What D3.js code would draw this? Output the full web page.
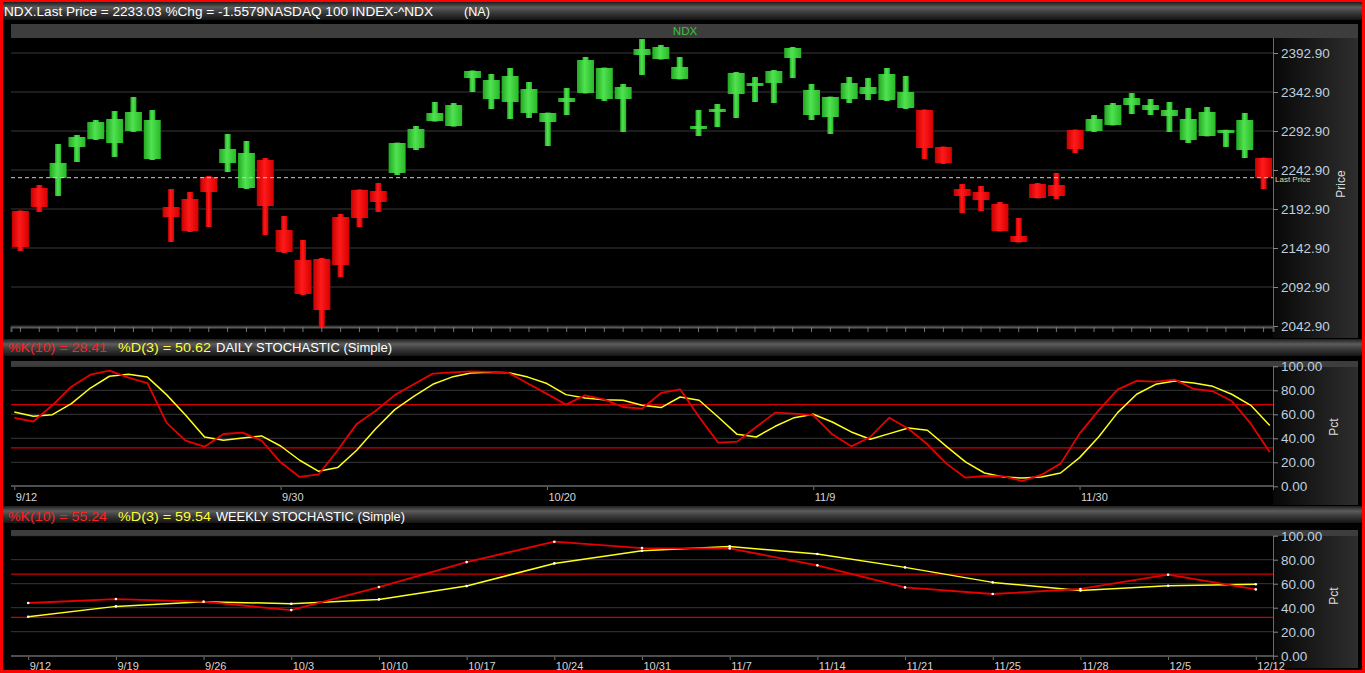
<!DOCTYPE html>
<html>
<head>
<meta charset="utf-8">
<title>NDX daily / stochastic</title>
<script src="https://cdn.jsdelivr.net/npm/d3@7/dist/d3.min.js"></script>
<style>
  html, body { margin: 0; padding: 0; background: #000; overflow: hidden; }
  svg { display: block; }
  text { font-family: 'Liberation Sans', Arial, sans-serif; }
</style>
</head>
<body>
<svg id="chart" width="1365" height="673"></svg>
<script>
/**
 * Data
 */
const dates = [
  '9/12', '9/13', '9/14', '9/15', '9/16', '9/19', '9/20', '9/21', '9/22', '9/23',
  '9/26', '9/27', '9/28', '9/29', '9/30', '10/3', '10/4', '10/5', '10/6', '10/7',
  '10/10', '10/11', '10/12', '10/13', '10/14', '10/17', '10/18', '10/19', '10/20', '10/21',
  '10/24', '10/25', '10/26', '10/27', '10/28', '10/31', '11/1', '11/2', '11/3', '11/4',
  '11/7', '11/8', '11/9', '11/10', '11/11', '11/14', '11/15', '11/16', '11/17', '11/18',
  '11/21', '11/22', '11/23', '11/25', '11/28', '11/29', '11/30', '12/1', '12/2', '12/5',
  '12/6', '12/7', '12/8', '12/9', '12/12', '12/13', '12/14'
]

const open = [
  2190.3, 2219.8, 2232.6, 2272.4, 2282.6, 2277.5, 2292.9, 2257.0, 2195.5, 2205.7,
  2233.9, 2251.9, 2219.8, 2255.7, 2166.0, 2127.5, 2128.8, 2182.6, 2217.3, 2216.0,
  2239.1, 2271.1, 2305.7, 2299.3, 2360.8, 2333.9, 2330.1, 2316.0, 2304.4, 2330.1,
  2341.6, 2333.9, 2333.9, 2390.3, 2385.2, 2359.6, 2298.0, 2318.5, 2340.3, 2353.2,
  2354.4, 2386.5, 2313.4, 2310.8, 2333.9, 2340.3, 2332.6, 2322.4, 2319.8, 2272.4,
  2218.5, 2214.7, 2199.3, 2158.3, 2225.0, 2223.7, 2294.2, 2292.9, 2300.6, 2326.2,
  2319.8, 2312.1, 2281.4, 2286.5, 2292.9, 2268.5, 2258.3
]
const high = [
  2191.0, 2223.7, 2276.2, 2287.8, 2307.0, 2318.5, 2336.5, 2319.8, 2218.5, 2214.7,
  2235.2, 2289.1, 2280.1, 2258.3, 2183.9, 2153.2, 2130.1, 2186.5, 2218.0, 2226.2,
  2278.0, 2299.3, 2330.1, 2328.8, 2370.5, 2366.0, 2373.7, 2355.7, 2316.5, 2348.0,
  2387.8, 2374.2, 2353.2, 2410.8, 2403.2, 2387.8, 2319.8, 2327.5, 2368.5, 2362.1,
  2371.1, 2400.6, 2353.2, 2337.0, 2362.1, 2360.8, 2373.7, 2363.4, 2320.5, 2273.0,
  2225.0, 2222.4, 2201.9, 2181.4, 2226.2, 2239.1, 2294.8, 2313.4, 2328.8, 2341.6,
  2333.9, 2330.1, 2322.4, 2323.7, 2294.5, 2316.0, 2258.8
]
const low = [
  2139.1, 2189.1, 2209.6, 2253.2, 2281.4, 2259.6, 2291.6, 2255.7, 2150.6, 2163.4,
  2169.8, 2240.3, 2218.5, 2159.6, 2136.5, 2082.6, 2041.6, 2105.7, 2169.8, 2189.1,
  2236.5, 2268.5, 2305.0, 2298.5, 2342.9, 2321.1, 2308.3, 2309.6, 2273.7, 2313.4,
  2341.0, 2331.4, 2291.6, 2364.7, 2384.5, 2359.0, 2286.5, 2298.0, 2309.6, 2330.1,
  2328.8, 2360.8, 2307.0, 2289.1, 2328.8, 2332.6, 2331.4, 2321.1, 2257.0, 2250.6,
  2187.8, 2190.3, 2164.0, 2150.0, 2206.5, 2205.7, 2264.7, 2291.6, 2300.0, 2314.7,
  2313.4, 2291.6, 2277.5, 2286.0, 2272.4, 2258.3, 2218.5
]
const close = [
  2144.2, 2195.5, 2251.9, 2285.2, 2304.4, 2308.3, 2317.3, 2307.0, 2182.6, 2164.7,
  2214.7, 2269.8, 2264.7, 2196.7, 2137.8, 2083.9, 2063.4, 2121.1, 2181.4, 2201.9,
  2277.5, 2295.5, 2316.0, 2326.2, 2369.8, 2358.3, 2363.4, 2346.7, 2316.0, 2335.2,
  2383.9, 2373.7, 2349.3, 2398.0, 2400.6, 2375.0, 2299.3, 2321.1, 2367.3, 2354.4,
  2369.8, 2399.3, 2345.5, 2336.5, 2354.4, 2349.3, 2366.0, 2342.9, 2271.1, 2251.9,
  2209.6, 2204.4, 2164.7, 2150.6, 2207.0, 2209.6, 2269.8, 2308.3, 2326.2, 2335.2,
  2326.2, 2319.8, 2308.3, 2317.3, 2294.2, 2307.0, 2233.03
]

const dailyK = [
  57, 54, 67.5, 83, 93, 96.4, 90.5, 86, 53, 38, 33, 43.6, 44.7, 38, 20, 7.8, 10, 30, 52, 63, 76, 85,
  93.9, 95, 95.8, 95.3, 94.4, 85.6, 77, 68.1, 75.8, 72.5, 66.1, 64.7, 77.8, 80.8, 57.8, 36.4, 37.2, 49.4, 61.4, 60.6, 59.2, 43.3,
  33.3, 41.1, 57.2, 48, 35, 18.9, 7.2, 8.6, 8.3, 4.4, 9.7, 18.9, 43.9, 63.3, 80.6, 87.8, 87.2, 88.9, 81.1, 79.2, 71.1, 52.2, 28.41
]
const dailyD = [
  62, 58.3, 59.7, 68.9, 81.9, 91.7, 93.3, 91, 76.4, 59.4, 41, 38.3, 40.3, 42, 33.6, 21.7, 12.5, 15.6, 30, 48, 63.9, 75,
  85, 91, 94.4, 95, 94.7, 91, 85.6, 76.4, 73.6, 72.2, 71.7, 67.5, 65.6, 74.4, 71.7, 57.8, 43.3, 41.1, 50, 57.2, 60, 53.6,
  45.3, 39.2, 43.9, 48.6, 46.7, 33.3, 20.3, 11.1, 7.8, 6.9, 7.8, 11.1, 23.9, 41.1, 61.4, 76.7, 85, 87.8, 86.1, 83.3, 76.7, 67.5, 50.62
]
const dailyLabels = ['9/12', '9/30', '10/20', '11/9', '11/30']

const weekDates = ['9/12', '9/19', '9/26', '10/3', '10/10', '10/17', '10/24', '10/31', '11/7', '11/14', '11/21', '11/25', '11/28', '12/5', '12/12']
const weeklyK = [43.9, 47.2, 45, 38, 57.2, 78, 95, 89.7, 89.4, 75.3, 56.9, 51.4, 55.6, 67.5, 55.24]
const weeklyD = [32.5, 41.1, 45, 43.3, 46.9, 58, 76.9, 87.5, 91.1, 84.7, 73.6, 61.1, 54.4, 58.3, 59.54]

const priceTicks = [2042.9, 2092.9, 2142.9, 2192.9, 2242.9, 2292.9, 2342.9, 2392.9]
const pctTicks = [0, 20, 40, 60, 80, 100]
const bandLevels = [32, 68]
const lastPrice = 2233.03

/**
 * Layout
 */
const W = 1365
const H = 673
const left = 11
const right = 1273
const edge = 1358

const svg = d3.select('#chart')
const defs = svg.append('defs')

function gradient (id, stops, horizontal = false) {
  let g = defs.append('linearGradient').attr('id', id)
    .attr('x1', 0).attr('y1', 0)
    .attr('x2', horizontal ? 1 : 0).attr('y2', horizontal ? 0 : 1)
  stops.forEach(([o, c]) => g.append('stop').attr('offset', o).attr('stop-color', c))
}

gradient('hdr', [[0, '#1e1e1e'], [0.3, '#5c5c5c'], [0.55, '#3e3e3e'], [1, '#141414']])
gradient('axisBg', [[0, '#080808'], [1, '#2e2e2e']], true)
gradient('up', [[0, '#22a822'], [0.45, '#50e250'], [1, '#28b828']], true)
gradient('down', [[0, '#c80000'], [0.45, '#ff1a1a'], [1, '#d60000']], true)

svg.append('rect').attr('width', W).attr('height', H).attr('fill', '#000')

// header bars
function headerBar (y0, y1) {
  svg.append('rect')
    .attr('x', 3).attr('y', y0)
    .attr('width', 1359).attr('height', y1 - y0)
    .attr('fill', 'url(#hdr)')
}

function headerText (x, y, str, len, color) {
  svg.append('text')
    .attr('x', x).attr('y', y)
    .attr('textLength', len)
    .attr('lengthAdjust', 'spacingAndGlyphs')
    .attr('fill', color)
    .style('font-size', '13px')
    .text(str)
}

headerBar(2, 20)
headerText(4, 16, 'NDX.Last Price = 2233.03 %Chg = -1.5579NASDAQ 100 INDEX-^NDX', 429, '#fff')
headerText(464, 16, '(NA)', 26, '#fff')

headerBar(339, 356)
headerText(8, 352, '%K(10) = 28.41', 99, '#ff1f1f')
headerText(118, 352, '%D(3) = 50.62', 93, '#ffff33')
headerText(216, 352, 'DAILY STOCHASTIC (Simple)', 176, '#fff')

headerBar(506, 523)
headerText(8, 521, '%K(10) = 55.24', 99, '#ff1f1f')
headerText(118, 521, '%D(3) = 59.54', 93, '#ffff33')
headerText(216, 521, 'WEEKLY STOCHASTIC (Simple)', 189, '#fff')

/**
 * Generic panel frame: title strip, right axis, grid
 */
function panelFrame (p) {
  svg.append('rect')
    .attr('x', left).attr('y', p.barTop)
    .attr('width', edge - left).attr('height', p.plotTop - p.barTop)
    .attr('fill', '#3d3d3d')

  svg.append('rect')
    .attr('x', right).attr('y', p.plotTop)
    .attr('width', edge - right).attr('height', p.bottom - p.plotTop)
    .attr('fill', 'url(#axisBg)')

  let grid = svg.append('g').classed('grid', true)
  grid.selectAll('line')
    .data(p.ticks)
    .enter().append('line')
    .attr('x1', left).attr('x2', right)
    .attr('y1', (d) => p.y(d)).attr('y2', (d) => p.y(d))
    .style('stroke', '#383838')
    .style('stroke-width', 1)

  // vertical axis line
  svg.append('line')
    .attr('x1', right + 0.5).attr('x2', right + 0.5)
    .attr('y1', p.plotTop).attr('y2', p.axisBottom + 4)
    .style('stroke', '#6a6a6a')

  let ax = svg.append('g')
    .classed('axis', true)
    .attr('transform', `translate(${right},0)`)
    .call(d3.axisRight(p.y).tickValues(p.ticks).tickFormat(d3.format('.2f')).tickSize(5).tickPadding(3))
  ax.select('.domain').remove()
  ax.selectAll('.tick line').style('stroke', '#888')
  ax.selectAll('.tick text')
    .attr('fill', '#bfcfdf')
    .style('font-size', '13.5px')
    .style('font-family', "'Liberation Sans', Arial, sans-serif")

  svg.append('text')
    .attr('transform', `translate(${p.labelX},${p.labelY}) rotate(-90)`)
    .attr('text-anchor', 'middle')
    .attr('fill', '#dcdcdc')
    .style('font-size', '12px')
    .text(p.label)
}

/**
 * Price panel (candles)
 */
const xPrice = d3.scaleBand().domain(dates).range([left, right])
const yPrice = d3.scaleLinear().domain([2042.9, 2392.9]).range([326, 53])

panelFrame({
  barTop: 24, plotTop: 38, bottom: 338, axisBottom: 327,
  y: yPrice, ticks: priceTicks, label: 'Price', labelX: 1345, labelY: 184
})

svg.append('text')
  .attr('x', 685).attr('y', 35)
  .attr('text-anchor', 'middle')
  .attr('fill', '#3cc23c')
  .style('font-size', '11.5px')
  .text('NDX')

let xAxisPrice = svg.append('g')
  .attr('transform', 'translate(0,327)')
  .call(d3.axisBottom(xPrice).tickFormat('').tickSize(5))
xAxisPrice.select('.domain').style('stroke', '#5a5a5a').style('stroke-width', 2)
xAxisPrice.selectAll('.tick line').style('stroke', '#777')

const candles = dates.map((d, i) => ({date: d, o: open[i], h: high[i], l: low[i], c: close[i]}))
const bw = xPrice.bandwidth()
const bodyW = 17
const wickW = 6

let cg = svg.append('g').classed('candles', true)
let cItem = cg.selectAll('g')
  .data(candles)
  .enter().append('g')
  .attr('transform', (d) => `translate(${xPrice(d.date) + bw / 2},0)`)

cItem.append('rect')
  .attr('x', -wickW / 2)
  .attr('y', (d) => yPrice(d.h))
  .attr('width', wickW)
  .attr('height', (d) => yPrice(d.l) - yPrice(d.h))
  .attr('fill', (d) => d.c >= d.o ? 'url(#up)' : 'url(#down)')

cItem.append('rect')
  .attr('x', -bodyW / 2)
  .attr('y', (d) => yPrice(Math.max(d.o, d.c)))
  .attr('width', bodyW)
  .attr('height', (d) => Math.max(3, Math.abs(yPrice(d.o) - yPrice(d.c))))
  .attr('fill', (d) => d.c >= d.o ? 'url(#up)' : 'url(#down)')

// last price line
svg.append('line')
  .attr('x1', left).attr('x2', right)
  .attr('y1', yPrice(lastPrice)).attr('y2', yPrice(lastPrice))
  .style('stroke', '#cfcfcf')
  .style('stroke-dasharray', '4,3')
svg.append('text')
  .attr('x', right + 2).attr('y', yPrice(lastPrice) + 4.5)
  .attr('fill', '#e6d69a')
  .style('font-size', '8px')
  .text('Last Price')

/**
 * Stochastic panels
 */
function stochPanel (p) {
  panelFrame({
    barTop: p.barTop, plotTop: p.plotTop, bottom: p.bottom, axisBottom: p.plotBottom,
    y: p.y, ticks: pctTicks, label: 'Pct', labelX: 1338, labelY: p.labelY
  })

  svg.append('g').selectAll('line')
    .data(bandLevels)
    .enter().append('line')
    .attr('x1', left).attr('x2', right)
    .attr('y1', (d) => p.y(d)).attr('y2', (d) => p.y(d))
    .style('stroke', '#d40000')
    .style('stroke-width', 1.3)

  let xa = svg.append('g')
    .attr('transform', `translate(0,${p.plotBottom})`)
    .call(d3.axisBottom(p.x).tickValues(p.labels).tickSize(4).tickPadding(p.pad))
  xa.select('.domain').remove()
  xa.selectAll('.tick line').style('stroke', '#777')
  xa.selectAll('.tick text')
    .attr('text-anchor', 'start')
    .attr('x', 1)
    .attr('fill', '#d6d6d6')
    .style('font-size', '11px')
    .style('font-family', "'Liberation Sans', Arial, sans-serif")

  svg.append('line')
    .attr('x1', left).attr('x2', right)
    .attr('y1', p.plotBottom).attr('y2', p.plotBottom)
    .style('stroke', '#4e4e4e')
    .style('stroke-width', 2)

  let line = d3.line()
    .x((d) => p.x(d.date))
    .y((d) => p.y(d.v))

  const series = [
    {vals: p.d, color: '#ffff1a', width: 1.5},
    {vals: p.k, color: '#e60000', width: 1.8}
  ]
  series.forEach((s) => {
    let pts = p.domain.map((d, i) => ({date: d, v: s.vals[i]}))
    svg.append('path')
      .datum(pts)
      .attr('d', line)
      .attr('fill', 'none')
      .style('stroke', s.color)
      .style('stroke-width', s.width)
      .style('stroke-linejoin', 'round')
    if (p.dots) {
      svg.append('g').selectAll('circle')
        .data(pts)
        .enter().append('circle')
        .attr('cx', (d) => p.x(d.date))
        .attr('cy', (d) => p.y(d.v))
        .attr('r', 1.3)
        .attr('fill', '#fff')
    }
  })
}

stochPanel({
  barTop: 361, plotTop: 367, plotBottom: 486, bottom: 505, labelY: 427, pad: 3,
  x: d3.scalePoint().domain(dates).range([14.3, 1269.8]),
  y: d3.scaleLinear().domain([0, 100]).range([486.3, 366.3]),
  domain: dates, labels: dailyLabels, k: dailyK, d: dailyD, dots: false
})

stochPanel({
  barTop: 530, plotTop: 536, plotBottom: 656, bottom: 668, labelY: 596, pad: 2,
  x: d3.scalePoint().domain(weekDates).range([28.2, 1255.8]),
  y: d3.scaleLinear().domain([0, 100]).range([655.7, 535.7]),
  domain: weekDates, labels: weekDates, k: weeklyK, d: weeklyD, dots: true
})

// red frame
const frame = [[0, 0, W, 2], [0, 0, 3, H], [W - 3, 0, 3, H], [0, H - 3, W, 3]]
svg.append('g').selectAll('rect')
  .data(frame)
  .enter().append('rect')
  .attr('x', (d) => d[0]).attr('y', (d) => d[1])
  .attr('width', (d) => d[2]).attr('height', (d) => d[3])
  .attr('fill', '#ff0000')
</script>
</body>
</html>
